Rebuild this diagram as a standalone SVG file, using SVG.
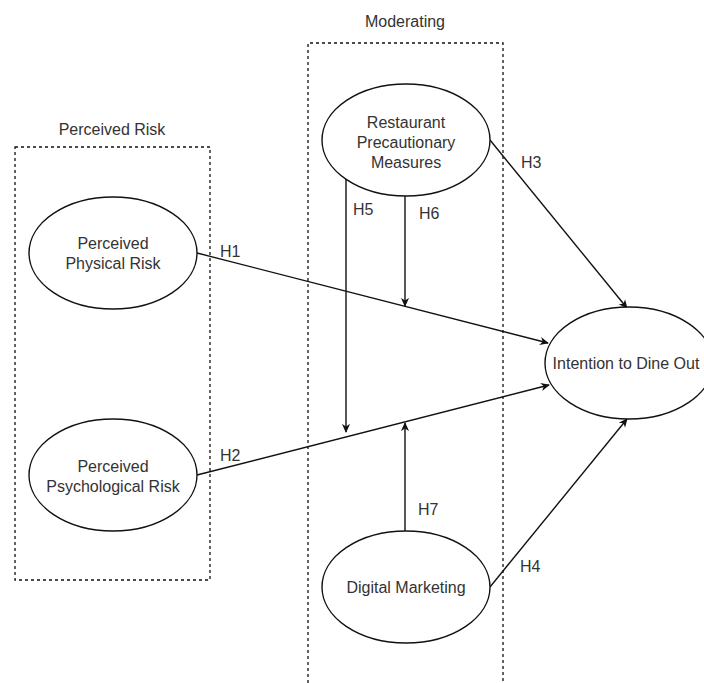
<svg xmlns="http://www.w3.org/2000/svg" width="704" height="683" viewBox="0 0 704 683">
<defs>
<marker id="arr" viewBox="0 0 10 10" refX="9" refY="5" markerWidth="9" markerHeight="9" markerUnits="userSpaceOnUse" orient="auto">
<path d="M0,0.5 L10,5 L0,9.5 L3,5 Z" fill="#111"/>
</marker>
</defs>
<style>
.box{fill:none;stroke:#111;stroke-width:1.3;stroke-dasharray:3 3}
.node{fill:#fff;stroke:#111;stroke-width:1.4}
.t{font-family:"Liberation Sans",Arial,sans-serif;font-size:16px;fill:#333;text-anchor:middle;dominant-baseline:central}
.lab{font-family:"Liberation Sans",Arial,sans-serif;font-size:16px;fill:#333;dominant-baseline:central}
.c{fill:none;stroke:#111;stroke-width:1.4;marker-end:url(#arr)}
</style>
<rect width="704" height="683" fill="#fff"/>
<g id="group-perceived-risk">
<rect class="box" x="15" y="147" width="195" height="433"/>
<text class="t" x="112" y="129">Perceived Risk</text>
</g>
<g id="group-moderating">
<path class="box" d="M308,683 L308,43 L503,43 L503,683"/>
<text class="t" x="405" y="21">Moderating</text>
</g>
<g id="connectors">
<line class="c" x1="197" y1="253" x2="548" y2="343"/>
<line class="c" x1="197" y1="475" x2="549" y2="385"/>
<line class="c" x1="490" y1="140" x2="627" y2="308"/>
<line class="c" x1="490" y1="587" x2="627" y2="419"/>
<line class="c" x1="346" y1="179" x2="346" y2="432"/>
<line class="c" x1="405" y1="196" x2="405" y2="306"/>
<line class="c" x1="405" y1="531" x2="405" y2="423"/>
<text class="lab" x="220" y="251">H1</text>
<text class="lab" x="220" y="455">H2</text>
<text class="lab" x="521" y="162">H3</text>
<text class="lab" x="520" y="566">H4</text>
<text class="lab" x="353" y="209">H5</text>
<text class="lab" x="419" y="213">H6</text>
<text class="lab" x="418" y="509">H7</text>
</g>
<g id="node-physical">
<ellipse class="node" cx="113" cy="253" rx="84" ry="56"/>
<text class="t" x="113" y="243">Perceived</text>
<text class="t" x="113" y="263">Physical Risk</text>
</g>
<g id="node-psychological">
<ellipse class="node" cx="113" cy="475" rx="84" ry="56"/>
<text class="t" x="113" y="466">Perceived</text>
<text class="t" x="113" y="486">Psychological Risk</text>
</g>
<g id="node-restaurant">
<ellipse class="node" cx="406" cy="140" rx="84" ry="56"/>
<text class="t" x="406" y="122">Restaurant</text>
<text class="t" x="406" y="142">Precautionary</text>
<text class="t" x="406" y="162">Measures</text>
</g>
<g id="node-digital">
<ellipse class="node" cx="406" cy="587" rx="84" ry="56"/>
<text class="t" x="406" y="587">Digital Marketing</text>
</g>
<g id="node-intention">
<ellipse class="node" cx="629" cy="363" rx="84" ry="56"/>
<text class="t" x="626" y="363">Intention to Dine Out</text>
</g>
</svg>
